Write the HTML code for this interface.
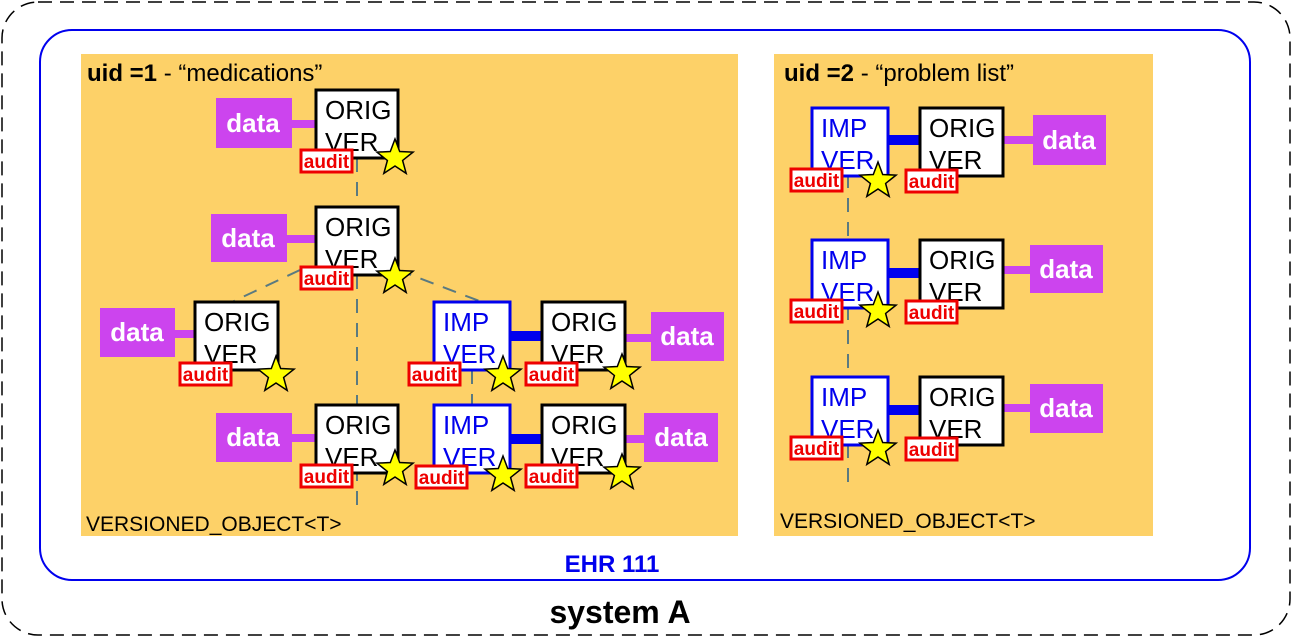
<!DOCTYPE html>
<html><head><meta charset="utf-8"><style>
html,body{margin:0;padding:0;background:#fff;}
svg{display:block;font-family:"Liberation Sans",Arial,sans-serif;}
</style></head><body>
<svg width="1292" height="637" viewBox="0 0 1292 637" xmlns="http://www.w3.org/2000/svg">
<defs>
<polygon id="st" points="0,-19 4.7,-6.47 18.07,-5.87 7.61,2.47 11.17,15.37 0,8 -11.17,15.37 -7.61,2.47 -18.07,-5.87 -4.7,-6.47" fill="#ffff00" stroke="#000" stroke-width="1.5"/>
</defs>
<rect x="2" y="2" width="1288" height="633" rx="36" fill="#fff" stroke="#000" stroke-width="1.5" stroke-dasharray="14,8"/>
<rect x="40" y="30" width="1210" height="550" rx="32" fill="#fff" stroke="#0000ee" stroke-width="2"/>
<rect x="81" y="54" width="657" height="482" fill="#fdd168"/>
<rect x="774" y="54" width="379" height="482" fill="#fdd168"/>
<text x="87" y="81" font-size="24"><tspan font-weight="bold">uid =1</tspan> - “medications”</text>
<text x="784" y="81" font-size="24"><tspan font-weight="bold">uid =2</tspan> - “problem list”</text>
<text x="86" y="531" font-size="21">VERSIONED_OBJECT&lt;T&gt;</text>
<text x="780" y="528" font-size="21">VERSIONED_OBJECT&lt;T&gt;</text>
<text x="612" y="572" font-size="24" font-weight="bold" fill="#0000ee" text-anchor="middle">EHR 111</text>
<text x="620" y="623" font-size="32" font-weight="bold" text-anchor="middle">system A</text>

<g stroke="#5a7a80" stroke-width="2" stroke-dasharray="14,10" fill="none">
<line x1="357" y1="158" x2="357" y2="207"/>
<line x1="357" y1="275" x2="357" y2="510"/>
<line x1="300" y1="270" x2="232" y2="302"/>
<line x1="398" y1="270" x2="482" y2="302"/>
<line x1="472" y1="370" x2="472" y2="405"/>
<line x1="848" y1="174" x2="848" y2="238"/>
<line x1="848" y1="306" x2="848" y2="376"/>
<line x1="848" y1="444" x2="848" y2="490"/>
</g>

<g stroke="#cc44ee" stroke-width="8">
<line x1="292" y1="124" x2="316" y2="124"/>
<line x1="287" y1="239" x2="316" y2="239"/>
<line x1="175" y1="334" x2="195" y2="334"/>
<line x1="625" y1="338" x2="651" y2="338"/>
<line x1="292" y1="438" x2="316" y2="438"/>
<line x1="625" y1="439" x2="644" y2="439"/>
<line x1="1003" y1="140" x2="1033" y2="140"/>
<line x1="1003" y1="270" x2="1030" y2="270"/>
<line x1="1003" y1="408" x2="1030" y2="408"/>
</g>
<g stroke="#0000ee" stroke-width="10">
<line x1="510" y1="336" x2="542" y2="336"/>
<line x1="510" y1="439" x2="542" y2="439"/>
<line x1="888" y1="140" x2="920" y2="140"/>
<line x1="888" y1="273" x2="920" y2="273"/>
<line x1="888" y1="410" x2="920" y2="410"/>
</g>

<g fill="#cc44ee">
<rect x="216" y="98" width="76" height="50"/>
<rect x="211" y="214" width="76" height="48"/>
<rect x="100" y="308" width="75" height="49"/>
<rect x="651" y="312" width="73" height="49"/>
<rect x="216" y="413" width="76" height="49"/>
<rect x="644" y="413" width="74" height="49"/>
<rect x="1033" y="115" width="73" height="50"/>
<rect x="1030" y="245" width="73" height="48"/>
<rect x="1030" y="384" width="73" height="49"/>
</g>
<g fill="#fff" font-size="26" font-weight="bold" text-anchor="middle">
<text x="253" y="132">data</text>
<text x="248" y="247">data</text>
<text x="137" y="341">data</text>
<text x="687" y="345">data</text>
<text x="253" y="446">data</text>
<text x="681" y="446">data</text>
<text x="1069" y="149">data</text>
<text x="1066" y="278">data</text>
<text x="1066" y="417">data</text>
</g>

<g stroke-width="3" fill="#fff">
<rect x="316" y="90" width="82" height="68" stroke="#000"/>
<rect x="316" y="207" width="82" height="68" stroke="#000"/>
<rect x="195" y="302" width="83" height="68" stroke="#000"/>
<rect x="434" y="302" width="76" height="68" stroke="#0000ee"/>
<rect x="542" y="302" width="83" height="68" stroke="#000"/>
<rect x="316" y="405" width="82" height="68" stroke="#000"/>
<rect x="434" y="405" width="76" height="68" stroke="#0000ee"/>
<rect x="542" y="405" width="83" height="68" stroke="#000"/>
<rect x="812" y="108" width="76" height="68" stroke="#0000ee"/>
<rect x="920" y="108" width="83" height="68" stroke="#000"/>
<rect x="812" y="240" width="76" height="68" stroke="#0000ee"/>
<rect x="920" y="240" width="83" height="68" stroke="#000"/>
<rect x="812" y="377" width="76" height="68" stroke="#0000ee"/>
<rect x="920" y="377" width="83" height="68" stroke="#000"/>
</g>
<g font-size="26">
<text x="325" y="119">ORIG</text><text x="325" y="151">VER</text>
<text x="325" y="236">ORIG</text><text x="325" y="268">VER</text>
<text x="204" y="331">ORIG</text><text x="204" y="363">VER</text>
<text x="551" y="331">ORIG</text><text x="551" y="363">VER</text>
<text x="325" y="434">ORIG</text><text x="325" y="466">VER</text>
<text x="551" y="434">ORIG</text><text x="551" y="466">VER</text>
<text x="929" y="137">ORIG</text><text x="929" y="169">VER</text>
<text x="929" y="269">ORIG</text><text x="929" y="301">VER</text>
<text x="929" y="406">ORIG</text><text x="929" y="438">VER</text>
<g fill="#0000ee">
<text x="443" y="331">IMP</text><text x="443" y="363">VER</text>
<text x="443" y="434">IMP</text><text x="443" y="466">VER</text>
<text x="821" y="137">IMP</text><text x="821" y="169">VER</text>
<text x="821" y="269">IMP</text><text x="821" y="301">VER</text>
<text x="821" y="406">IMP</text><text x="821" y="438">VER</text>
</g>
</g>

<g fill="#fff" stroke="#ee0000" stroke-width="3">
<rect x="301" y="150" width="51" height="22"/>
<rect x="301" y="267" width="51" height="22"/>
<rect x="180" y="363" width="51" height="22"/>
<rect x="409" y="363" width="51" height="22"/>
<rect x="526" y="363" width="51" height="22"/>
<rect x="301" y="465" width="51" height="22"/>
<rect x="416" y="466" width="51" height="22"/>
<rect x="526" y="465" width="51" height="22"/>
<rect x="791" y="169" width="51" height="22"/>
<rect x="906" y="170" width="51" height="22"/>
<rect x="791" y="300" width="51" height="22"/>
<rect x="906" y="301" width="51" height="22"/>
<rect x="791" y="437" width="51" height="22"/>
<rect x="906" y="438" width="51" height="22"/>
</g>
<g fill="#ee0000" font-size="19" font-weight="bold" text-anchor="middle">
<text x="326.5" y="168">audit</text>
<text x="326.5" y="285">audit</text>
<text x="205.5" y="381">audit</text>
<text x="434.5" y="381">audit</text>
<text x="551.5" y="381">audit</text>
<text x="326.5" y="483">audit</text>
<text x="441.5" y="484">audit</text>
<text x="551.5" y="483">audit</text>
<text x="816.5" y="187">audit</text>
<text x="931.5" y="188">audit</text>
<text x="816.5" y="318">audit</text>
<text x="931.5" y="319">audit</text>
<text x="816.5" y="455">audit</text>
<text x="931.5" y="456">audit</text>
</g>

<use href="#st" x="395" y="158"/>
<use href="#st" x="395" y="277"/>
<use href="#st" x="276" y="375"/>
<use href="#st" x="503" y="375"/>
<use href="#st" x="622" y="373"/>
<use href="#st" x="395" y="469"/>
<use href="#st" x="503" y="475"/>
<use href="#st" x="622" y="473"/>
<use href="#st" x="878" y="181"/>
<use href="#st" x="878" y="311"/>
<use href="#st" x="878" y="449"/>
</svg>
</body></html>
